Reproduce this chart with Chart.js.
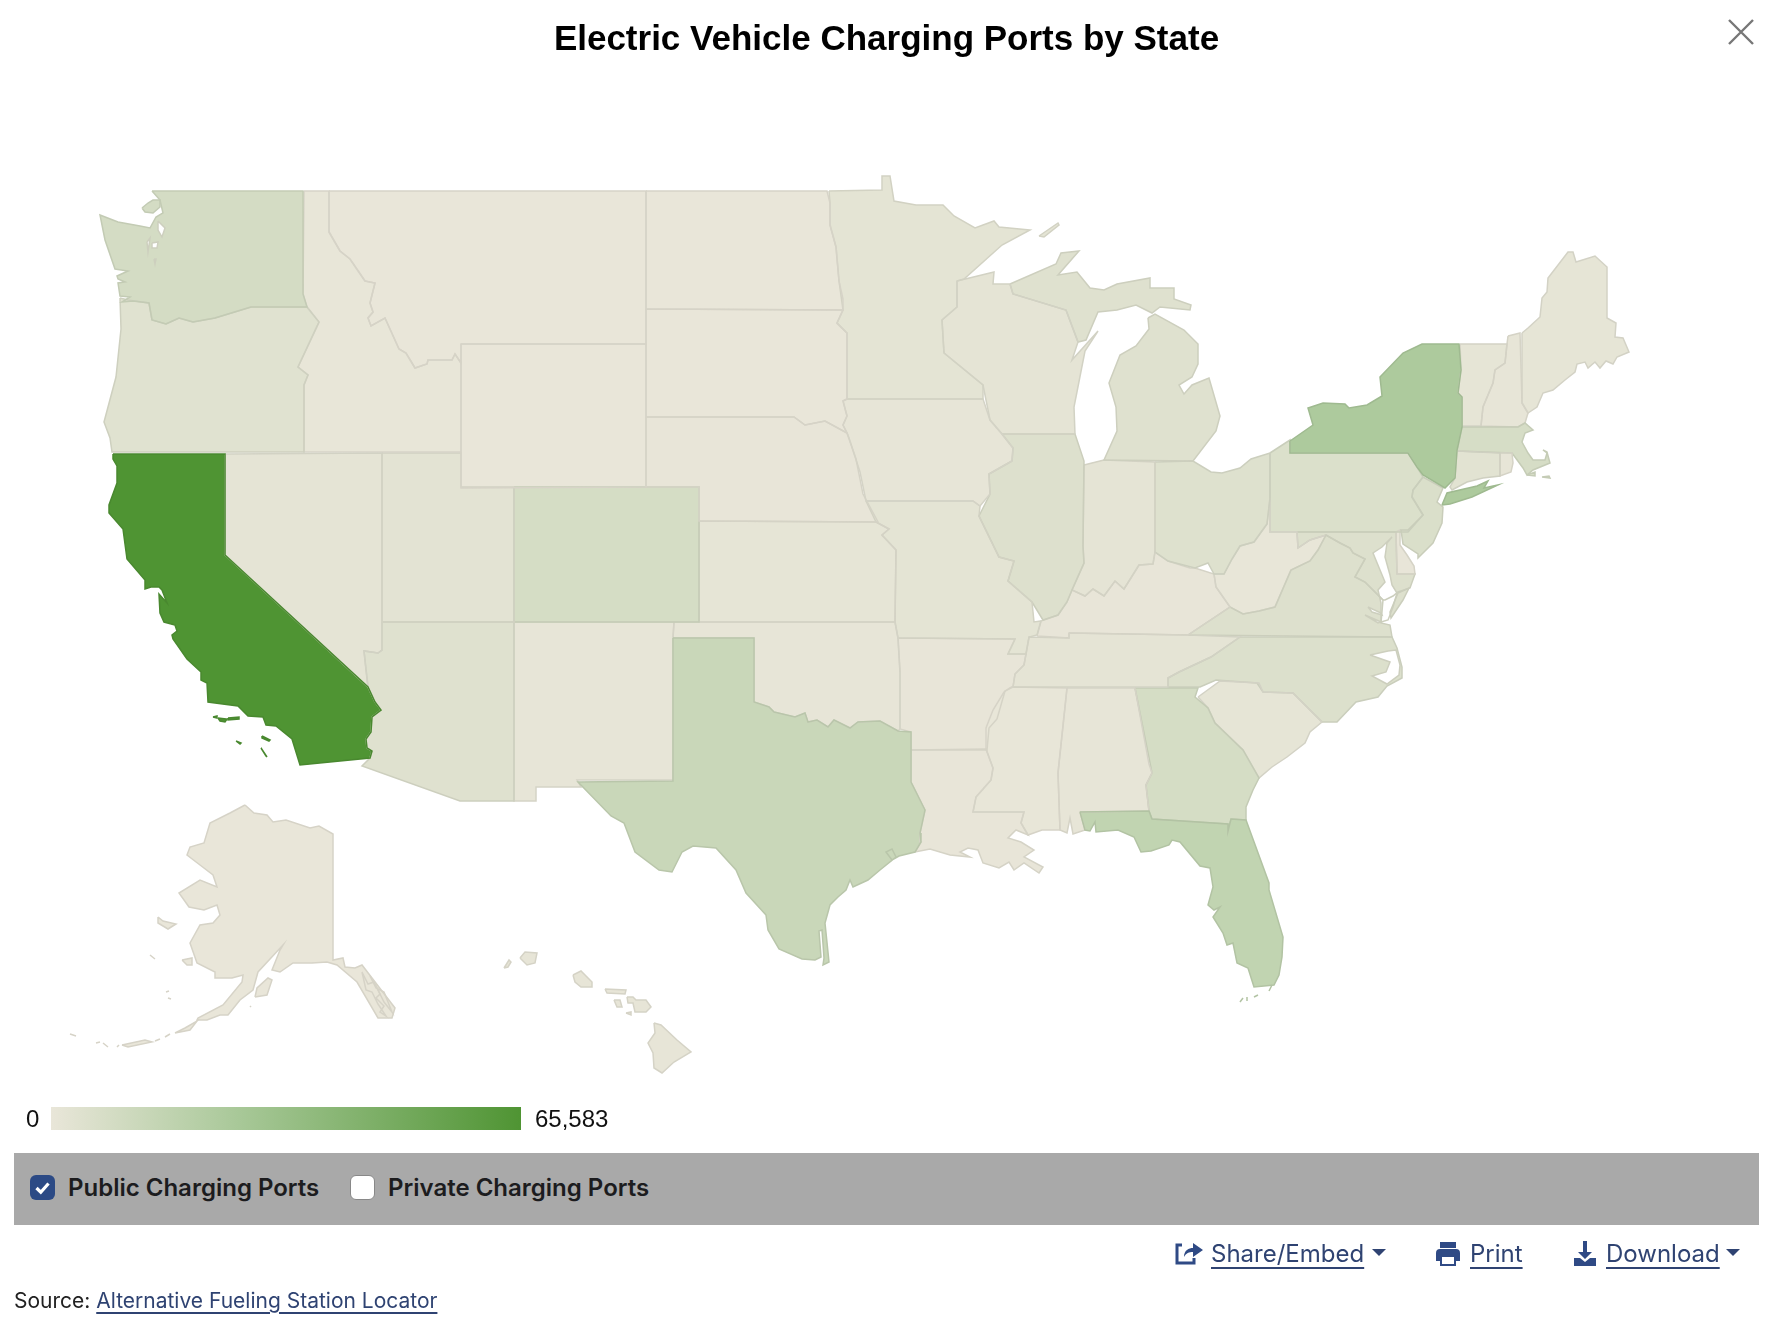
<!DOCTYPE html>
<html>
<head>
<meta charset="utf-8">
<title>Electric Vehicle Charging Ports by State</title>
<script src="https://cdn.jsdelivr.net/npm/chart.js@4"></script>
<style>
  html, body { margin: 0; padding: 0; background: #fff; }
  body { position: relative; width: 1765px; height: 1326px; overflow: hidden; font-family: "Inter", sans-serif; }
  #map { position: absolute; left: 0; top: 0; }
  .abs { position: absolute; white-space: nowrap; }
  #title { left: 0; width: 1773px; top: 18px; text-align: center; font: bold 35px "Liberation Sans", sans-serif; color: #000; }
  #scale { left: 51px; top: 1107px; width: 470px; height: 23px; }
  .scaleText { font: 24px "Liberation Sans", sans-serif; color: #111; top: 1105px; }
  #bar { left: 14px; top: 1153px; width: 1745px; height: 72px; background: #a9a9a9; }
  .box { width: 25px; height: 25px; border-radius: 6px; top: 1175px; box-sizing: border-box; }
  .opt { top: 1173px; font-size: 24px; font-weight: 600; color: #1c1c1e; }
  .lnk { font-size: 24px; color: #2f4372; text-decoration: underline; text-underline-offset: 5px; text-decoration-thickness: 1.5px; top: 1239px; }
  .caret { width: 0; height: 0; border-left: 7px solid transparent; border-right: 7px solid transparent; border-top: 7px solid #2f4372; top: 1249px; }
  #source { left: 14px; top: 1288px; font-size: 21px; color: #222; }
  #source a { color: #2f4372; text-decoration: underline; text-underline-offset: 4px; }
</style>
</head>
<body>
<canvas id="map" width="1765" height="1326"></canvas>
<div class="abs" id="title">Electric Vehicle Charging Ports by State</div>
<svg class="abs" style="left:1728px;top:19px" width="26" height="26" viewBox="0 0 26 26"><path d="M1 1 L25 25 M25 1 L1 25" stroke="#777" stroke-width="2.4"/></svg>

<div class="abs scaleText" style="left:26px">0</div>
<div class="abs" id="scale"></div>
<div class="abs scaleText" style="left:535px">65,583</div>

<div class="abs" id="bar"></div>
<div class="abs box" style="left:30px;background:#2c4a85">
  <svg width="25" height="25" viewBox="0 0 25 25"><path d="M6.5 13 L10.8 17.2 L18.5 8.5" fill="none" stroke="#fff" stroke-width="3.2"/></svg>
</div>
<div class="abs opt" style="left:68px">Public Charging Ports</div>
<div class="abs box" style="left:350px;background:#fff;border:1px solid #888"></div>
<div class="abs opt" style="left:388px">Private Charging Ports</div>

<svg class="abs" style="left:1174px;top:1240px" width="30" height="26" viewBox="0 0 30 26"><path d="M8 5 H3 V23 H20 V18" fill="none" stroke="#2f4a85" stroke-width="3"/><path d="M10 17 C10 10 15 8 19 8 V3 L29 10 L19 17 V12 C15 12 12 13 10 17 Z" fill="#2f4a85"/></svg>
<div class="abs lnk" style="left:1211px">Share/Embed</div>
<div class="abs caret" style="left:1372px"></div>
<svg class="abs" style="left:1435px;top:1240px" width="26" height="28" viewBox="0 0 26 28"><path d="M5 2 H21 V8 H5 Z M1 13 Q1 9 5 9 H21 Q25 9 25 13 V21 H21 V26 H5 V21 H1 Z" fill="#2f4a85"/><rect x="7" y="17" width="12" height="7" fill="#fff"/></svg>
<div class="abs lnk" style="left:1470px">Print</div>
<svg class="abs" style="left:1573px;top:1240px" width="24" height="28" viewBox="0 0 24 28"><path d="M10 1 H14 V12 H19 L12 19 L5 12 H10 Z" fill="#2f4a85"/><path d="M1 18 H7 L12 22 L17 18 H23 V26 H1 Z" fill="#2f4a85"/></svg>
<div class="abs lnk" style="left:1606px">Download</div>
<div class="abs caret" style="left:1726px"></div>

<div class="abs" id="source">Source: <a href="#">Alternative Fueling Station Locator</a></div>

<script>
// Public ports per state
const stateCodes = ['CA','NY','TX','FL','WA','OR','NV','ID','MT','WY','ND','SD','NE','UT','AZ','CO','NM','KS','OK','MN','IA','MO','AR','LA','WI','IL','MI','IN','OH','KY','TN','MS','AL','GA','SC','NC','VA','WV','PA','NJ','DE','MD','CT','RI','MA','VT','NH','ME','AK','HI'];
const statePorts = [65583,24000,12900,16000,8500,3600,1700,300,200,200,150,200,500,2300,4000,8000,800,1100,900,1900,900,1900,600,500,1800,4900,4000,1500,4300,600,1800,300,800,8000,1300,5200,4900,400,5600,6000,500,4900,3000,800,7500,1200,700,1300,100,800];
const scaleStops = [0, 26000, 65583];
const scaleColors = [[233,230,217],[168,200,152],[79,148,51]];

// State outlines, in map units
const WA = [[152,191],[303,191],[303,294],[307,307],[251,307],[215,318],[193,322],[179,318],[166,324],[152,320],[149,303],[133,301],[122,302],[130,297],[120,296],[118,283],[125,282],[118,279],[117,276],[128,271],[115,269],[105,240],[100,215],[118,222],[140,226],[150,228],[156,217],[163,213],[160,200]];
const WA_i1 = [[142,208],[148,203],[153,200],[160,200],[160,207],[153,213],[145,212]];
const OR = [[120,298],[128,300],[149,303],[152,320],[166,324],[179,318],[193,322],[215,318],[251,307],[307,307],[319,322],[298,367],[308,375],[304,385],[304,452],[112,452],[110,438],[104,422],[116,377],[121,329]];
const CA = [[113,454],[225,454],[225,555],[368,687],[375,702],[381,710],[372,717],[371,732],[366,739],[367,748],[372,751],[370,758],[300,765],[292,739],[276,726],[266,725],[263,717],[248,716],[238,706],[208,702],[207,683],[201,680],[201,672],[187,659],[173,639],[172,635],[177,631],[175,625],[164,622],[160,613],[159,594],[167,603],[162,590],[159,587],[151,587],[145,589],[145,580],[127,559],[123,529],[109,513],[109,505],[117,483],[117,466],[113,459]];
const CA_i1 = [[218,718],[227,719],[225,722],[220,721]];
const CA_i2 = [[228,718],[239,717],[239,719],[228,720]];
const CA_i3 = [[213,717],[217,716],[217,718]];
const CA_i4 = [[236,741],[241,743],[240,744]];
const CA_i5 = [[262,736],[270,740],[269,741],[262,738]];
const CA_i6 = [[261,748],[267,757],[266,756]];
const NV = [[225,454],[382,453],[382,650],[378,653],[364,651],[366,670],[368,687],[225,555]];
const ID = [[304,191],[329,191],[329,232],[340,251],[350,259],[365,281],[375,283],[370,303],[373,312],[368,318],[371,326],[385,318],[399,349],[406,353],[415,368],[427,364],[428,360],[452,360],[455,354],[461,363],[461,452],[304,452],[304,385],[308,375],[298,367],[319,322],[307,307],[303,294]];
const MT = [[329,191],[646,191],[646,344],[461,344],[461,363],[455,354],[452,360],[428,360],[427,364],[415,368],[406,353],[399,349],[385,318],[371,326],[368,318],[373,312],[370,303],[375,283],[365,281],[350,259],[340,251],[329,232]];
const WY = [[461,344],[646,344],[646,487],[461,488]];
const ND = [[646,191],[827,191],[830,203],[830,225],[836,247],[839,281],[843,299],[843,310],[646,309]];
const SD = [[646,309],[843,310],[837,323],[847,333],[847,399],[843,401],[847,416],[843,425],[847,433],[825,421],[805,425],[794,417],[646,417]];
const NE = [[646,417],[794,417],[805,425],[825,421],[847,433],[856,459],[863,494],[878,522],[699,521],[699,487],[646,487]];
const UT = [[382,453],[461,453],[461,487],[514,487],[514,622],[382,622]];
const CO = [[514,487],[699,487],[699,622],[514,622]];
const AZ = [[382,622],[514,622],[514,801],[460,801],[362,766],[370,758],[372,751],[367,748],[366,739],[371,732],[372,717],[381,710],[375,702],[368,687],[364,651],[378,653],[382,650]];
const NM = [[514,622],[674,622],[673,638],[673,780],[577,780],[581,787],[536,787],[536,801],[514,801]];
const KS = [[699,521],[876,522],[889,529],[882,535],[896,550],[895,622],[699,622]];
const OK = [[674,622],[895,622],[898,638],[900,672],[900,729],[898,731],[880,721],[858,722],[850,728],[834,720],[828,727],[817,720],[808,722],[805,713],[795,717],[774,712],[769,707],[754,702],[754,638],[673,638]];
const TX = [[673,638],[754,638],[754,702],[769,707],[774,712],[795,717],[805,713],[808,722],[817,720],[828,727],[834,720],[850,728],[858,722],[880,721],[898,731],[911,732],[911,782],[925,810],[920,833],[921,842],[915,852],[899,856],[892,860],[886,852],[892,849],[896,857],[880,870],[868,880],[853,887],[850,880],[846,890],[838,897],[830,905],[825,923],[829,962],[823,965],[824,958],[822,930],[819,931],[821,957],[815,960],[802,959],[779,949],[768,930],[766,915],[746,893],[736,870],[716,848],[693,846],[682,852],[672,872],[659,870],[635,852],[624,823],[611,816],[578,782],[673,781]];
const MN = [[829,191],[882,190],[882,176],[890,176],[894,201],[916,205],[943,205],[954,216],[975,228],[994,221],[999,227],[1030,230],[1002,245],[964,279],[957,281],[957,307],[942,320],[944,353],[983,385],[983,399],[847,399],[847,333],[837,323],[843,310],[839,281],[836,247],[830,225],[830,203]];
const MN_i1 = [[1039,236],[1058,223],[1059,225],[1044,237]];
const IA = [[847,399],[983,399],[990,420],[1002,434],[1013,448],[1012,461],[989,474],[990,494],[980,506],[973,501],[866,501],[860,472],[849,438],[847,433],[843,425],[847,416],[843,401]];
const MO = [[866,501],[973,501],[980,506],[979,516],[999,557],[1014,561],[1008,581],[1032,602],[1034,622],[1041,621],[1037,635],[1029,637],[1026,654],[1008,654],[1015,639],[898,638],[895,622],[896,550],[882,535],[889,529],[876,522]];
const AR = [[898,638],[1015,639],[1008,654],[1026,654],[1024,665],[1015,674],[1013,687],[1005,691],[997,719],[989,728],[987,750],[911,750],[911,732],[900,729],[900,672]];
const LA = [[911,750],[986,749],[993,768],[991,780],[976,797],[973,812],[1024,812],[1021,823],[1028,835],[1016,830],[1008,838],[1021,842],[1034,850],[1024,857],[1043,867],[1039,873],[1024,863],[1014,870],[1009,862],[999,868],[983,863],[978,850],[968,848],[960,852],[970,857],[950,855],[930,849],[915,852],[921,842],[920,833],[925,810],[911,782]];
const WI = [[957,281],[994,272],[993,284],[1010,284],[1013,294],[1066,310],[1078,342],[1072,360],[1098,331],[1085,351],[1074,407],[1075,434],[1002,434],[990,420],[983,385],[944,353],[942,320],[957,307]];
const IL = [[1002,434],[1075,434],[1084,461],[1083,546],[1084,563],[1072,590],[1067,602],[1058,615],[1043,620],[1032,602],[1008,581],[1014,561],[999,557],[979,516],[990,494],[989,474],[1012,461],[1013,448]];
const MI_up = [[1010,284],[1056,264],[1061,253],[1079,251],[1058,275],[1077,272],[1090,288],[1104,290],[1117,284],[1150,278],[1150,288],[1174,288],[1174,299],[1191,305],[1190,310],[1160,307],[1152,313],[1136,305],[1117,310],[1098,312],[1086,340],[1078,342],[1066,310],[1013,294]];
const MI_lp = [[1148,318],[1155,314],[1184,330],[1198,344],[1198,364],[1192,377],[1179,385],[1184,394],[1192,385],[1209,378],[1220,416],[1216,431],[1193,461],[1104,460],[1117,431],[1116,407],[1109,383],[1120,355],[1136,346],[1149,329]];
const IN = [[1084,465],[1104,460],[1155,462],[1155,552],[1153,564],[1139,565],[1124,589],[1115,581],[1104,596],[1093,589],[1085,596],[1072,590],[1084,563],[1083,546]];
const OH = [[1155,462],[1193,461],[1211,472],[1222,473],[1240,468],[1251,459],[1270,453],[1270,498],[1267,524],[1254,542],[1240,546],[1232,559],[1224,574],[1214,574],[1208,563],[1195,568],[1168,561],[1155,552]];
const KY = [[1037,636],[1069,638],[1069,633],[1188,635],[1230,607],[1216,587],[1214,574],[1195,568],[1190,568],[1168,561],[1155,552],[1153,564],[1139,565],[1124,589],[1115,581],[1104,596],[1093,589],[1085,596],[1072,590],[1067,602],[1058,615],[1041,621]];
const TN = [[1069,633],[1188,635],[1240,637],[1211,657],[1179,672],[1168,678],[1168,687],[1013,687],[1015,674],[1024,665],[1026,654],[1029,637],[1069,638]];
const MS = [[1011,687],[1067,688],[1058,773],[1060,830],[1042,830],[1028,835],[1021,823],[1024,812],[973,812],[976,797],[991,780],[993,768],[986,749],[986,728],[993,710],[1004,692]];
const AL = [[1067,688],[1135,688],[1149,764],[1152,773],[1146,785],[1149,811],[1080,812],[1085,830],[1073,834],[1070,818],[1067,833],[1060,830],[1058,773]];
const GA = [[1135,688],[1198,688],[1195,697],[1208,708],[1215,723],[1243,750],[1259,778],[1253,790],[1246,807],[1246,820],[1231,819],[1228,831],[1228,824],[1152,819],[1149,811],[1146,785],[1152,773]];
const FL = [[1080,812],[1149,811],[1152,819],[1228,824],[1228,831],[1231,819],[1246,820],[1269,883],[1269,890],[1283,937],[1282,957],[1279,975],[1274,985],[1254,987],[1248,968],[1237,963],[1233,943],[1227,945],[1223,933],[1213,917],[1220,907],[1214,910],[1208,905],[1213,887],[1210,868],[1200,866],[1180,842],[1172,840],[1169,845],[1151,851],[1141,852],[1134,837],[1118,830],[1096,832],[1095,822],[1090,831],[1085,830]];
const FL_k1 = [[1240,1002],[1243,998]];
const FL_k2 = [[1247,1001],[1247,997]];
const FL_k3 = [[1254,997],[1258,995]];
const FL_k4 = [[1269,991],[1272,985]];
const SC = [[1198,697],[1220,681],[1259,683],[1263,692],[1293,693],[1322,722],[1310,732],[1305,743],[1287,757],[1272,767],[1259,778],[1243,750],[1215,723],[1208,708]];
const NC = [[1240,637],[1392,637],[1397,648],[1402,667],[1402,678],[1387,686],[1378,697],[1356,702],[1337,722],[1322,722],[1293,693],[1263,692],[1257,683],[1216,680],[1200,687],[1168,687],[1168,678],[1179,672],[1211,657]];
const VA = [[1188,635],[1392,637],[1390,625],[1381,623],[1383,600],[1365,582],[1355,577],[1365,559],[1353,553],[1350,548],[1340,543],[1326,535],[1318,550],[1310,561],[1291,570],[1275,607],[1259,611],[1243,614],[1230,607]];
const VA_es = [[1398,593],[1409,588],[1403,600],[1391,618],[1390,612]];
const WV = [[1270,498],[1270,532],[1297,532],[1298,548],[1310,540],[1326,535],[1318,550],[1310,561],[1291,570],[1275,607],[1259,611],[1243,614],[1230,607],[1216,587],[1214,574],[1224,574],[1232,559],[1240,546],[1254,542],[1267,524]];
const PA = [[1270,453],[1290,440],[1290,453],[1408,453],[1417,467],[1423,477],[1413,490],[1412,497],[1423,515],[1408,532],[1270,532]];
const NJ = [[1423,477],[1443,488],[1437,502],[1443,507],[1442,523],[1433,543],[1418,558],[1418,554],[1403,544],[1401,530],[1408,530],[1423,515],[1412,497],[1413,490]];
const DE = [[1396,532],[1400,530],[1400,545],[1407,555],[1414,566],[1415,574],[1397,574]];
const MD = [[1297,532],[1396,532],[1397,574],[1415,574],[1410,588],[1398,592],[1393,596],[1385,600],[1383,600],[1365,582],[1355,577],[1365,559],[1353,553],[1350,548],[1340,543],[1326,535],[1310,540],[1298,548]];
const NY = [[1290,441],[1313,425],[1308,408],[1323,403],[1345,404],[1349,408],[1367,405],[1382,396],[1380,377],[1403,353],[1422,344],[1459,344],[1461,370],[1458,393],[1462,397],[1462,427],[1457,450],[1455,478],[1445,488],[1423,475],[1417,467],[1408,453],[1290,453]];
const NY_li = [[1442,505],[1447,493],[1477,486],[1488,481],[1484,488],[1498,485],[1472,497],[1450,504]];
const CT = [[1457,451],[1500,453],[1500,476],[1483,478],[1467,482],[1452,490],[1450,487],[1455,478]];
const RI = [[1500,453],[1512,453],[1513,463],[1511,472],[1500,476]];
const MA = [[1462,427],[1518,427],[1525,423],[1533,430],[1525,433],[1522,442],[1528,453],[1533,460],[1545,460],[1547,453],[1543,450],[1547,452],[1550,463],[1533,470],[1527,475],[1523,468],[1512,453],[1457,451]];
const MA_i1 = [[1527,475],[1535,472],[1535,476]];
const MA_i2 = [[1542,477],[1549,476],[1550,478]];
const VT = [[1460,344],[1507,344],[1505,363],[1495,370],[1493,383],[1483,407],[1481,426],[1462,426],[1462,397],[1458,393],[1461,370]];
const NH = [[1508,336],[1520,333],[1522,403],[1528,413],[1525,423],[1518,427],[1481,426],[1483,407],[1493,383],[1495,370],[1505,363],[1507,344]];
const ME = [[1522,333],[1528,328],[1540,317],[1542,298],[1547,292],[1548,278],[1568,252],[1573,252],[1576,262],[1595,256],[1607,267],[1607,318],[1616,323],[1615,337],[1623,338],[1629,352],[1617,357],[1613,364],[1606,361],[1600,368],[1595,362],[1588,368],[1585,362],[1577,364],[1575,372],[1565,380],[1553,390],[1543,393],[1537,407],[1528,413],[1522,403]];
const AK = [[245,805],[254,813],[267,815],[273,822],[286,820],[310,828],[319,826],[333,834],[333,960],[343,958],[345,967],[355,968],[362,965],[395,1008],[392,1018],[378,1018],[357,982],[337,965],[327,962],[312,963],[293,963],[280,972],[272,970],[280,950],[283,945],[258,972],[253,990],[240,1000],[228,1015],[220,1015],[207,1020],[197,1020],[198,1018],[223,1005],[242,982],[243,975],[232,978],[215,978],[215,972],[197,963],[190,943],[200,925],[213,923],[220,915],[217,905],[204,910],[189,907],[179,893],[200,880],[217,887],[213,875],[200,865],[187,855],[190,847],[204,843],[210,823],[230,813]];
const AK_i1 = [[175,1033],[185,1028],[197,1021],[190,1030]];
const AK_i2 = [[122,1045],[145,1040],[152,1042],[128,1047]];
const AK_i3 = [[158,917],[163,921],[176,924],[168,929],[158,923]];
const AK_i4 = [[182,960],[192,958],[192,965],[187,965]];
const AK_i5 = [[255,997],[257,988],[268,978],[272,980],[267,995]];
const AK_i6 = [[150,955],[155,959]];
const AK_i7 = [[70,1034],[76,1036]];
const AK_i8 = [[96,1043],[100,1042]];
const AK_i9 = [[103,1043],[108,1047]];
const AK_i10 = [[117,1047],[119,1045]];
const AK_i11 = [[166,992],[169,991]];
const AK_i12 = [[168,998],[171,999]];
const AK_i13 = [[250,1007],[251,1006]];
const AK_i14 = [[155,1041],[160,1039]];
const AK_i15 = [[165,1037],[170,1034]];
const AK_se1 = [[362,972],[368,984],[374,982],[380,994],[376,998],[384,1006],[380,1012],[386,1016],[378,1004],[372,992],[366,990]];
const AK_se2 = [[370,976],[376,988],[384,992],[388,1002],[392,1012],[384,1002],[378,990]];
const HI_1 = [[520,958],[525,952],[537,953],[535,963],[527,965]];
const HI_2 = [[504,968],[509,960],[511,962],[508,967]];
const HI_3 = [[573,975],[581,971],[592,982],[592,987],[581,987],[575,982]];
const HI_4 = [[605,989],[626,990],[625,994],[607,993]];
const HI_5 = [[614,1000],[620,1000],[622,1007],[617,1007]];
const HI_6 = [[627,997],[633,997],[636,1000],[646,1000],[651,1007],[646,1012],[635,1012],[633,1003],[628,1003]];
const HI_7 = [[626,1013],[631,1012],[631,1015]];
const HI_8 = [[654,1023],[661,1025],[677,1040],[691,1052],[674,1062],[662,1073],[654,1068],[653,1053],[648,1043],[655,1033]];

const stateParts = [
  [CA,CA_i1,CA_i2,CA_i3,CA_i4,CA_i5,CA_i6],[NY,NY_li],[TX],[FL,FL_k1,FL_k2,FL_k3,FL_k4],[WA,WA_i1],[OR],[NV],[ID],[MT],[WY],[ND],[SD],[NE],[UT],[AZ],[CO],[NM],[KS],[OK],[MN,MN_i1],[IA],[MO],[AR],[LA],[WI],[IL],[MI_up,MI_lp],[IN],[OH],[KY],[TN],[MS],[AL],[GA],[SC],[NC],[VA,VA_es],[WV],[PA],[NJ],[DE],[MD],[CT],[RI],[MA,MA_i1,MA_i2],[VT],[NH],[ME],
  [AK,AK_i1,AK_i2,AK_i3,AK_i4,AK_i5,AK_i6,AK_i7,AK_i8,AK_i9,AK_i10,AK_i11,AK_i12,AK_i13,AK_i14,AK_i15,AK_se1,AK_se2],[HI_1,HI_2,HI_3,HI_4,HI_5,HI_6,HI_7,HI_8]
];

// Sounds and bays that cut into the states
const pugetA = [[158,221],[165,228],[162,237],[158,230]];
const pugetB = [[147,242],[150,238],[148,252]];
const pugetC = [[152,243],[158,242],[157,248],[152,248]];
const pugetD = [[154,259],[156,259],[155,264]];
const chesapeake = [[1392,537],[1382,547],[1373,553],[1380,570],[1385,582],[1378,590],[1381,603],[1381,622],[1388,620],[1390,615],[1393,607],[1397,593],[1392,585],[1390,575],[1385,557],[1387,543]];
const rappahannock = [[1368,607],[1381,613],[1382,615],[1372,612]];
const yorkRiver = [[1365,615],[1381,622],[1378,623]];
const pamlico = [[1370,655],[1388,651],[1396,650],[1400,665],[1399,675],[1387,684],[1372,676],[1386,672],[1390,662]];
const waterParts = [pugetA,pugetB,pugetC,pugetD,chesapeake,rappahannock,yorkRiver,pamlico];

// colour for a port count, same ramp as the bar under the map
function rampColor(v, k) {
  var i = v <= scaleStops[1] ? 0 : 1;
  var t = (v - scaleStops[i]) / (scaleStops[i + 1] - scaleStops[i]);
  var c = scaleColors[i].map(function (a, n) { return Math.round((a + (scaleColors[i + 1][n] - a) * t) * (k || 1)); });
  return 'rgb(' + c.join(',') + ')';
}

function cssColor(c) { return 'rgb(' + c.join(',') + ')'; }
document.getElementById('scale').style.background =
  'linear-gradient(to right, ' + cssColor(scaleColors[0]) + ' 0%, ' + cssColor(scaleColors[1]) + ' 40%, ' + cssColor(scaleColors[2]) + ' 100%)';

function shapeDataset(label, part, fill, line) {
  return {
    label: label,
    data: part.concat([part[0]]).map(function (p) { return { x: p[0], y: p[1] }; }),
    showLine: true,
    pointRadius: 0,
    borderWidth: 1.5,
    borderColor: line,
    backgroundColor: fill
  };
}

var datasets = [];
stateCodes.forEach(function (code, i) {
  stateParts[i].forEach(function (part) {
    datasets.push(shapeDataset(code, part, rampColor(statePorts[i]), rampColor(statePorts[i], 0.92)));
  });
});
waterParts.forEach(function (part) {
  datasets.push(shapeDataset('water', part, '#ffffff', rampColor(4000, 0.92)));
});

// Chart.js can't fill a closed, non monotonic line so fill from the parsed points
var polygonFill = {
  id: 'polygonFill',
  beforeDatasetsDraw: function (chart) {
    var ctx = chart.ctx;
    chart.data.datasets.forEach(function (ds, i) {
      var pts = chart.getDatasetMeta(i).data;
      ctx.beginPath();
      pts.forEach(function (p, n) { if (n === 0) ctx.moveTo(p.x, p.y); else ctx.lineTo(p.x, p.y); });
      ctx.closePath();
      ctx.fillStyle = ds.backgroundColor;
      ctx.fill();
    });
  }
};

new Chart(document.getElementById('map').getContext('2d'), {
  type: 'scatter',
  data: { datasets: datasets },
  plugins: [polygonFill],
  options: {
    responsive: false,
    animation: false,
    layout: { padding: 0 },
    events: [],
    plugins: { legend: { display: false }, tooltip: { enabled: false } },
    scales: {
      x: { type: 'linear', min: 0, max: 1765, display: false },
      y: { type: 'linear', min: 0, max: 1326, reverse: true, display: false }
    }
  }
});
</script>
</body>
</html>
